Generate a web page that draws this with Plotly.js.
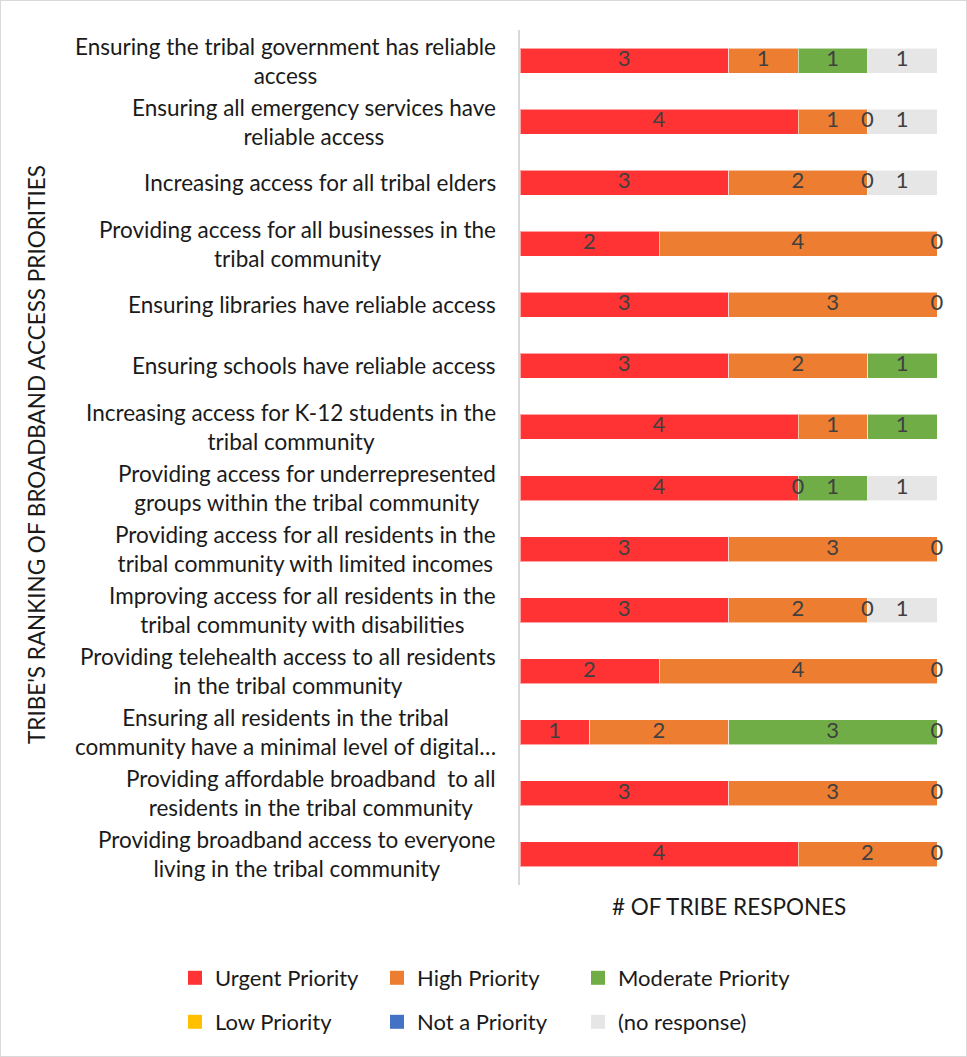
<!DOCTYPE html>
<html>
<head>
<meta charset="utf-8">
<script src="https://cdn.plot.ly/plotly-3.0.1.min.js"></script>
<style>
  body { margin: 0; background: #fff; }
  #chart { width: 967px; height: 1057px; }
  #frame { position: absolute; left: 0; top: 0; width: 965px; height: 1055px; border: 1px solid #d9d9d9; pointer-events: none; }
</style>
</head>
<body>
<div id="chart"></div>
<div id="frame"></div>
<script>
// ---- data ----
const categories = [
  "Ensuring the tribal government has reliable<br>access",
  "Ensuring all emergency services have<br>reliable access",
  "Increasing access for all tribal elders",
  "Providing access for all businesses in the<br>tribal community",
  "Ensuring libraries have reliable access",
  "Ensuring schools have reliable access",
  "Increasing access for K-12 students in the<br>tribal community",
  "Providing access for underrepresented<br>groups within the tribal community",
  "Providing access for all residents in the<br>tribal community with limited incomes",
  "Improving access for all residents in the<br>tribal community with disabilities",
  "Providing telehealth access to all residents<br>in the tribal community",
  "Ensuring all residents in the tribal<br>community have a minimal level of digital…",
  "Providing affordable broadband  to all<br>residents in the tribal community",
  "Providing broadband access to everyone<br>living in the tribal community"
];
const urgent     = [3, 4, 3, 2, 3, 3, 4, 4, 3, 3, 2, 1, 3, 4];
const high       = [1, 1, 2, 4, 3, 2, 1, 0, 3, 2, 4, 2, 3, 2];
const moderate   = [1, 0, 0, 0, 0, 1, 1, 1, 0, 0, 0, 3, 0, 0];
const low        = [null, null, null, null, null, null, null, null, null, null, null, null, null, null];
const notPriority= [null, null, null, null, null, null, null, null, null, null, null, null, null, null];
const noResponse = [1, 1, 1, null, null, null, null, 1, null, 1, null, 0, null, null];

const seriesNames  = ["Urgent Priority", "High Priority", "Moderate Priority", "Low Priority", "Not a Priority", "(no response)"];
const seriesValues = [urgent, high, moderate, low, notPriority, noResponse];
const seriesColors = ["#FF3333", "#ED7D31", "#70AD47", "#FFC000", "#4472C4", "#E7E6E6"];
const xTitle = "# OF TRIBE RESPONES";
const yTitle = "TRIBE'S RANKING OF BROADBAND ACCESS PRIORITIES";

// ---- build ----
const FONT = "Lato, 'Open Sans', sans-serif";
const PL = 520, PW = 417, PT = 30, PH = 855;
const px2x = p => (p - PL) / PW;
const px2y = p => (PT + PH - p) / PH;

const legendIds = ['legend', 'legend2', 'legend3', 'legend4', 'legend5', 'legend6'];
const legendLeft = [175, 377, 578];
const legendRowY = [978, 1022];

const traces = [];
seriesNames.forEach((name, i) => {
  traces.push({
    type: 'bar', orientation: 'h', name: name,
    y: categories, x: seriesValues[i],
    marker: { color: seriesColors[i], line: { color: 'rgba(255,255,255,0.55)', width: 1 } },
    hoverinfo: 'skip', showlegend: false
  });
});
// legend keys (square swatches)
seriesNames.forEach((name, i) => {
  traces.push({
    type: 'scatter', mode: 'markers', name: name, x: [null], y: [null],
    marker: { symbol: 'square', size: 14, color: seriesColors[i] },
    hoverinfo: 'skip', showlegend: true, legend: legendIds[i]
  });
});

// data labels (centre of each segment; zero values on the boundary)
const lx = [], ly = [], lt = [];
categories.forEach((c, r) => {
  let cum = 0;
  seriesValues.forEach(vals => {
    const v = vals[r];
    if (v === null || v === undefined) return;
    lx.push(cum + v / 2); ly.push(c); lt.push(String(v));
    cum += v;
  });
});
traces.push({
  type: 'scatter', mode: 'text', x: lx, y: ly, text: lt,
  textposition: 'middle center',
  textfont: { family: FONT, size: 22, color: '#404040' },
  showlegend: false, hoverinfo: 'skip', cliponaxis: false
});

const annotations = categories.map(c => ({
  xref: 'paper', yref: 'y', x: px2x(498), y: c,
  xanchor: 'right', yanchor: 'middle', align: 'center',
  text: c, showarrow: false,
  font: { family: FONT, size: 22.5, color: '#1a1a1a' }
}));
annotations.push({
  xref: 'paper', yref: 'paper', x: 0.5, y: px2y(907),
  xanchor: 'center', yanchor: 'middle', text: xTitle, showarrow: false,
  font: { family: FONT, size: 22.5, color: '#1a1a1a' }
});
annotations.push({
  xref: 'paper', yref: 'paper', x: px2x(36), y: px2y(455),
  xanchor: 'center', yanchor: 'middle', textangle: -90, text: yTitle, showarrow: false,
  font: { family: FONT, size: 22.5, color: '#1a1a1a' }
});

const layout = {
  width: 967, height: 1057,
  margin: { l: PL, r: 967 - PL - PW, t: PT, b: 1057 - PT - PH, autoexpand: false },
  paper_bgcolor: '#ffffff', plot_bgcolor: '#ffffff',
  barmode: 'stack', bargap: 0.59,
  showlegend: true,
  xaxis: { range: [0, 6], showgrid: false, zeroline: false, showticklabels: false, showline: false, ticks: '', fixedrange: true },
  yaxis: { type: 'category', range: [categories.length - 0.5, -0.5], showgrid: false, zeroline: false, showticklabels: false,
           showline: true, linecolor: '#d9d9d9', linewidth: 2, ticks: '', fixedrange: true },
  annotations: annotations
};
legendIds.forEach((id, i) => {
  layout[id] = {
    orientation: 'v', xref: 'paper', yref: 'paper',
    xanchor: 'left', yanchor: 'middle',
    x: px2x(legendLeft[i % 3]), y: px2y(legendRowY[Math.floor(i / 3)]),
    font: { family: FONT, size: 22, color: '#1a1a1a' },
    bgcolor: 'rgba(0,0,0,0)', borderwidth: 0,
    itemclick: false, itemdoubleclick: false
  };
});

Plotly.newPlot('chart', traces, layout, { staticPlot: true, displayModeBar: false });
</script>
</body>
</html>
